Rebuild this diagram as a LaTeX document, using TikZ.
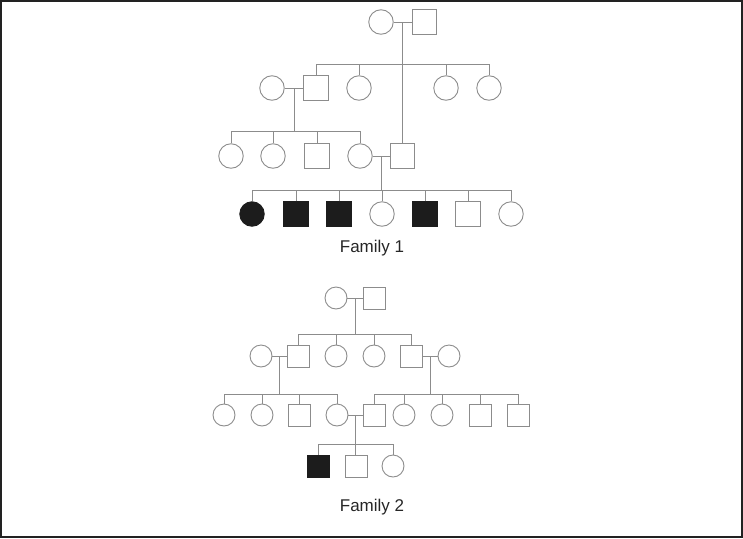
\documentclass[tikz,border=0pt]{standalone}
\usepackage{fontspec}
\setmainfont{Liberation Sans}
\usetikzlibrary{calc}
\definecolor{ln}{RGB}{140,140,140}
\definecolor{fillk}{RGB}{28,28,28}
\definecolor{frame}{RGB}{34,34,34}
\begin{document}
\begin{tikzpicture}[x=1pt,y=-1pt,
  every path/.style={line width=0.9pt},
  fem/.style={circle,draw=ln,inner sep=0pt,minimum size=#1},
  fem/.default=24.5,
  mal/.style={rectangle,draw=ln,inner sep=0pt,minimum size=#1},
  mal/.default=24.5,
  aff/.style={fill=fillk,draw=fillk},
  con/.style={draw=ln,line width=0.9pt},
  lbl/.style={font=\fontsize{17}{20}\selectfont,text=black!85}]
\useasboundingbox (0,0) rectangle (743,538);
\draw[frame,line width=1.6pt] (0.8,0.8) rectangle (742.2,537.2);

% ---------------- Family 1 ----------------
\node[fem] (f1a) at (381,22) {};
\node[mal] (f1b) at (424.5,22) {};
\node[mal] (f2b) at (316,88) {};
\node[fem] (f2a) at (272,88) {};
\node[fem] (f2c) at (359,88) {};
\node[fem] (f2d) at (446,88) {};
\node[fem] (f2e) at (489,88) {};
\node[fem] (f3a) at (231,156) {};
\node[fem] (f3b) at (273,156) {};
\node[mal] (f3c) at (317,156) {};
\node[fem] (f3d) at (360,156) {};
\node[mal] (f3e) at (402.5,156) {};
\node[fem,aff] (f4a) at (252,214) {};
\node[mal,aff] (f4b) at (296,214) {};
\node[mal,aff] (f4c) at (339,214) {};
\node[fem] (f4d) at (382,214) {};
\node[mal,aff] (f4e) at (425,214) {};
\node[mal] (f4f) at (468,214) {};
\node[fem] (f4g) at (511,214) {};
\node[lbl] (fam1) at (372,248) {Family 1};

\coordinate (m1) at ($(f1a.east)!0.5!(f1b.west)$);
\coordinate (m2) at ($(f2a.east)!0.5!(f2b.west)$);
\coordinate (m3) at ($(f3d.east)!0.5!(f3e.west)$);
\coordinate (s1) at (0,64);
\coordinate (s2) at (0,131);
\coordinate (s3) at (0,190);

\draw[con] (f1a) -- (f1b);
\draw[con] (f2a) -- (f2b);
\draw[con] (f3d) -- (f3e);
\draw[con] (m1) -- (m1 |- f3e.north);
\draw[con] (f2b.north |- s1) -- (f2e.north |- s1);
\foreach \c in {f2b,f2c,f2d,f2e} \draw[con] (\c.north) -- (\c.north |- s1);
\draw[con] (m2) -- (m2 |- s2);
\draw[con] (f3a.north |- s2) -- (f3d.north |- s2);
\foreach \c in {f3a,f3b,f3c,f3d} \draw[con] (\c.north) -- (\c.north |- s2);
\draw[con] (m3) -- (m3 |- s3);
\draw[con] (f4a.north |- s3) -- (f4g.north |- s3);
\foreach \c in {f4a,f4b,f4c,f4d,f4e,f4f,f4g} \draw[con] (\c.north) -- (\c.north |- s3);

% ---------------- Family 2 ----------------
\node[fem=22] (g1a) at (336,298) {};
\node[mal=22] (g1b) at (374,298) {};
\node[fem=22] (g2a) at (261,356) {};
\node[mal=22] (g2b) at (298,356) {};
\node[fem=22] (g2c) at (336,356) {};
\node[fem=22] (g2d) at (374,356) {};
\node[mal=22] (g2e) at (411,356) {};
\node[fem=22] (g2f) at (449,356) {};
\node[fem=22] (g3a) at (224,415) {};
\node[fem=22] (g3b) at (262,415) {};
\node[mal=22] (g3c) at (299,415) {};
\node[fem=22] (g3d) at (337,415) {};
\node[mal=22] (g3e) at (374,415) {};
\node[fem=22] (g3f) at (404,415) {};
\node[fem=22] (g3g) at (442,415) {};
\node[mal=22] (g3h) at (480,415) {};
\node[mal=22] (g3i) at (518,415) {};
\node[mal=22,aff] (g4a) at (318,466) {};
\node[mal=22] (g4b) at (356,466) {};
\node[fem=22] (g4c) at (393,466) {};
\node[lbl] (fam2) at (372,507) {Family 2};

\coordinate (n1) at ($(g1a.east)!0.5!(g1b.west)$);
\coordinate (n2) at ($(g2a.east)!0.5!(g2b.west)$);
\coordinate (n3) at ($(g2e.east)!0.5!(g2f.west)$);
\coordinate (n4) at ($(g3d.east)!0.5!(g3e.west)$);
\coordinate (t1) at (0,334);
\coordinate (t2) at (0,394);
\coordinate (t3) at (0,444);

\draw[con] (g1a) -- (g1b);
\draw[con] (g2a) -- (g2b);
\draw[con] (g2e) -- (g2f);
\draw[con] (g3d) -- (g3e);
\draw[con] (n1) -- (n1 |- t1);
\draw[con] (g2b.north |- t1) -- (g2e.north |- t1);
\foreach \c in {g2b,g2c,g2d,g2e} \draw[con] (\c.north) -- (\c.north |- t1);
\draw[con] (n2) -- (n2 |- t2);
\draw[con] (g3a.north |- t2) -- (g3d.north |- t2);
\foreach \c in {g3a,g3b,g3c,g3d} \draw[con] (\c.north) -- (\c.north |- t2);
\draw[con] (n3) -- (n3 |- t2);
\draw[con] (g3e.north |- t2) -- (g3i.north |- t2);
\foreach \c in {g3e,g3f,g3g,g3h,g3i} \draw[con] (\c.north) -- (\c.north |- t2);
\draw[con] (n4) -- (n4 |- g4b.north);
\draw[con] (g4a.north |- t3) -- (g4c.north |- t3);
\foreach \c in {g4a,g4c} \draw[con] (\c.north) -- (\c.north |- t3);
\end{tikzpicture}
\end{document}
